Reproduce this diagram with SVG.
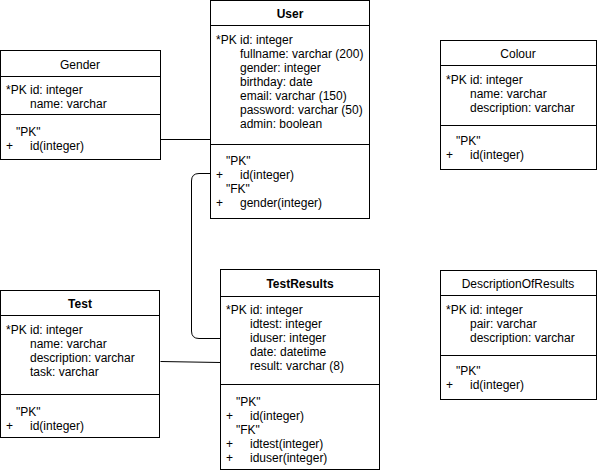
<svg xmlns="http://www.w3.org/2000/svg" width="601" height="474" viewBox="0 0 601 474">
<style>
rect.box{fill:#fff;stroke:#000;stroke-width:1}
line.sep{stroke:#000;stroke-width:1}
text{font-family:"Liberation Sans",Arial,sans-serif;font-size:12px;fill:#000}
text.h{text-anchor:middle}
text.b{font-weight:bold}
.conn{fill:none;stroke:#000;stroke-width:1}
</style>
<rect width="601" height="474" fill="#fff"/>
<g id="connectors">
<path class="conn" d="M160.5,139.5 H210.5"/>
<path class="conn" d="M210.5,173.5 H199 Q191.5,173.5 191.5,181 V331 Q191.5,338.5 199,338.5 H220.5"/>
<path class="conn" d="M160.5,361.5 L220.5,362.5" stroke="#333"/>
</g>
<g id="Gender">
<rect class="box" x="0.5" y="50.5" width="160" height="109"/>
<line class="sep" x1="0.5" y1="76.5" x2="160.5" y2="76.5"/>
<line class="sep" x1="0.5" y1="114.5" x2="160.5" y2="114.5"/>
<text class="h" x="80" y="69">Gender</text>
<text x="6" y="94">*PK id: integer</text>
<text x="30" y="108">name: varchar</text>
<text x="16" y="136">"PK"</text>
<text x="6" y="150">+</text>
<text x="30" y="150">id(integer)</text>
</g>
<g id="User">
<rect class="box" x="210.5" y="0.5" width="159" height="218"/>
<line class="sep" x1="210.5" y1="25.5" x2="369.5" y2="25.5"/>
<line class="sep" x1="210.5" y1="144.5" x2="369.5" y2="144.5"/>
<text class="h b" x="290" y="18">User</text>
<text x="216" y="44">*PK id: integer</text>
<text x="240" y="58">fullname: varchar (200)</text>
<text x="240" y="72">gender: integer</text>
<text x="240" y="86">birthday: date</text>
<text x="240" y="100">email: varchar (150)</text>
<text x="240" y="114">password: varchar (50)</text>
<text x="240" y="128">admin: boolean</text>
<text x="226" y="165">"PK"</text>
<text x="216" y="179">+</text>
<text x="240" y="179">id(integer)</text>
<text x="226" y="193">"FK"</text>
<text x="216" y="207">+</text>
<text x="240" y="207">gender(integer)</text>
</g>
<g id="Colour">
<rect class="box" x="440.5" y="40.5" width="156" height="129"/>
<line class="sep" x1="440.5" y1="65.5" x2="596.5" y2="65.5"/>
<line class="sep" x1="440.5" y1="125.5" x2="596.5" y2="125.5"/>
<text class="h" x="518" y="58">Colour</text>
<text x="446" y="84">*PK id: integer</text>
<text x="470" y="98">name: varchar</text>
<text x="470" y="112">description: varchar</text>
<text x="456" y="145">"PK"</text>
<text x="446" y="159">+</text>
<text x="470" y="159">id(integer)</text>
</g>
<g id="Test">
<rect class="box" x="0.5" y="290.5" width="159" height="147"/>
<line class="sep" x1="0.5" y1="315.5" x2="159.5" y2="315.5"/>
<line class="sep" x1="0.5" y1="394.5" x2="159.5" y2="394.5"/>
<text class="h b" x="80" y="308">Test</text>
<text x="6" y="334">*PK id: integer</text>
<text x="30" y="348">name: varchar</text>
<text x="30" y="362">description: varchar</text>
<text x="30" y="376">task: varchar</text>
<text x="16" y="416">"PK"</text>
<text x="6" y="430">+</text>
<text x="30" y="430">id(integer)</text>
</g>
<g id="TestResults">
<rect class="box" x="220.5" y="269.5" width="159" height="200"/>
<line class="sep" x1="220.5" y1="296.5" x2="379.5" y2="296.5"/>
<line class="sep" x1="220.5" y1="384.5" x2="379.5" y2="384.5"/>
<text class="h b" x="300" y="288">TestResults</text>
<text x="226" y="314">*PK id: integer</text>
<text x="250" y="328">idtest: integer</text>
<text x="250" y="342">iduser: integer</text>
<text x="250" y="356">date: datetime</text>
<text x="250" y="370">result: varchar (8)</text>
<text x="236" y="406">"PK"</text>
<text x="226" y="420">+</text>
<text x="250" y="420">id(integer)</text>
<text x="236" y="434">"FK"</text>
<text x="226" y="448">+</text>
<text x="250" y="448">idtest(integer)</text>
<text x="226" y="462">+</text>
<text x="250" y="462">iduser(integer)</text>
</g>
<g id="DescriptionOfResults">
<rect class="box" x="440.5" y="270.5" width="156" height="129"/>
<line class="sep" x1="440.5" y1="295.5" x2="596.5" y2="295.5"/>
<line class="sep" x1="440.5" y1="355.5" x2="596.5" y2="355.5"/>
<text class="h" x="518" y="288">DescriptionOfResults</text>
<text x="446" y="314">*PK id: integer</text>
<text x="470" y="328">pair: varchar</text>
<text x="470" y="342">description: varchar</text>
<text x="456" y="375">"PK"</text>
<text x="446" y="389">+</text>
<text x="470" y="389">id(integer)</text>
</g>
</svg>
